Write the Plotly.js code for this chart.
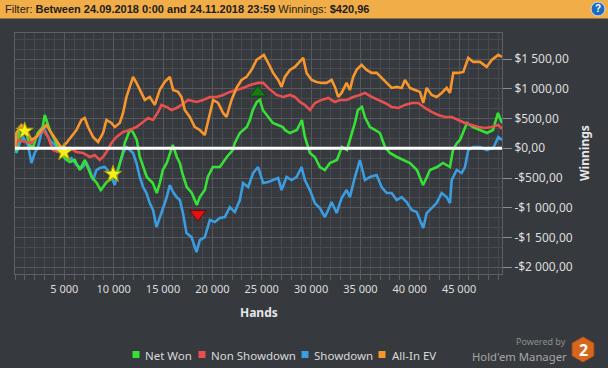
<!DOCTYPE html>
<html><head><meta charset="utf-8">
<script src="https://cdn.plot.ly/plotly-3.0.1.min.js"></script>
<style>html,body{margin:0;padding:0;background:#36393d;}#chart{width:608px;height:368px;}</style>
</head><body><div id="chart"></div>
<script>
// ---- data (hands, $) ----
const netHands = [0,172,477,984,1491,1795,2302,2809,3012,3519,4026,4533,5040,5547,6054,6561,7068,7575,7777,8284,8690,9298,9907,10414,10921,11123,11630,11934,12340,12644,13151,13354,13962,14368,14672,14976,15382,15686,15990,16396,16700,17005,17410,17917,18424,18728,19235,19539,20046,20756,21466,22074,22277,22784,23494,23798,24102,24508,24812,25116,25623,26130,26637,27144,27347,27854,28564,29071,29375,29882,30389,30896,31403,31910,32620,33127,33634,33938,34445,34749,35155,35459,35966,36473,36980,37487,37994,38704,39312,40022,40732,41340,41746,42050,42760,43368,44078,44382,44788,45093,45802,46411,47120,47830,48439,48946,49351];
const netWon = [0,-45,358,342,56,5,257,358,560,308,140,-62,-163,-230,-197,-365,-197,-416,-483,-584,-702,-567,-500,-365,-79,89,308,274,140,-146,-365,-483,-584,-752,-584,-365,-247,-79,56,-146,-247,-449,-651,-752,-954,-820,-702,-483,-315,-315,-146,-29,89,257,358,476,644,779,813,644,526,426,392,358,308,257,308,476,190,-79,-146,-315,-365,-247,-197,22,-29,140,426,644,695,526,358,308,257,22,-79,-146,-197,-247,-365,-618,-483,-365,-315,-247,-315,-29,89,140,426,358,308,257,308,594,420.96];

const nsHands = [0,304,811,1663,2170,2839,3346,3853,4360,4867,5547,6226,6895,7575,8082,8589,8923,9268,9775,10282,10951,11631,12310,12979,13486,13993,14500,14845,15352,15859,16366,16873,17542,18394,19063,19743,20422,21091,21771,22450,23119,23799,24640,25147,25654,26506,27175,27855,28362,28869,29376,29883,30390,31069,31738,32418,32925,33604,34273,34953,35460,36139,36808,37488,38167,38836,39516,40195,40864,41544,42223,42892,43572,44251,44920,45600,46279,46948,47628,48307,48976,49351];
const nonShowdown = [0,140,120,89,190,308,190,-29,-62,-29,5,-62,-79,-146,-113,-197,-146,-62,89,190,274,308,358,443,510,476,611,729,695,644,678,729,813,779,813,863,863,897,948,981,1015,1065,1099,1099,1015,897,863,897,863,779,729,644,762,813,846,779,813,813,863,897,931,863,813,762,695,678,729,762,762,678,611,560,526,526,476,426,392,358,342,358,392,325];

const sdHands = [0,142,477,811,1318,1663,1998,2332,2677,3012,3519,4026,4533,5212,5719,6226,6733,7240,7575,7909,8254,8589,9096,9603,10110,10444,10951,11296,11965,12310,12645,12979,13324,13658,13993,14338,14672,15007,15352,15686,16021,16366,16700,17035,17380,17887,18394,18728,19235,19743,20250,20757,21264,21771,22278,22785,23119,23626,24133,24640,25147,25654,26161,26668,27013,27520,28027,28534,29041,29376,29883,30390,30896,31403,31738,32083,32590,33097,33604,33938,34445,34953,35460,35966,36646,37153,37660,38167,38674,39181,39688,40195,40702,41036,41371,41716,42223,42730,43237,43744,44078,44251,44758,45265,45600,45934,46441,47120,47800,48469,48976,49351];
const showdown = [0,-79,89,190,56,-247,-79,22,257,308,140,56,-29,-197,-163,-281,-332,-247,-365,-534,-365,-332,-315,-416,-618,-365,-79,22,-79,-247,-483,-651,-752,-921,-1038,-1325,-1156,-1005,-836,-618,-736,-820,-870,-1099,-1426,-1493,-1745,-1543,-1493,-1207,-1240,-1173,-1156,-988,-1072,-870,-584,-651,-416,-315,-584,-567,-534,-500,-702,-483,-534,-483,-315,-534,-702,-921,-1005,-1156,-1038,-904,-1089,-836,-702,-820,-483,-197,-534,-483,-449,-651,-752,-752,-870,-820,-904,-1038,-1072,-1207,-1341,-1089,-1005,-921,-752,-820,-921,-534,-365,-416,-315,-29,22,22,-29,5,190,140];

const evHands = [0,142,649,1156,1663,2170,2677,3184,3691,4198,4705,5212,5719,6226,6733,7068,7402,7909,8416,8923,9268,9775,10110,10617,10951,11296,11631,11965,12310,12645,13152,13658,14165,14672,15179,15686,16021,16528,16873,17207,17714,18221,18728,19235,19570,20077,20584,21091,21436,21943,22450,22957,23464,23971,24478,24812,25218,25654,26161,26668,27013,27347,27855,28362,28869,29204,29548,30055,30562,31069,31576,32083,32418,32752,33097,33604,33938,34273,34618,35125,35632,36139,36646,37153,37660,38167,38674,39181,39516,40022,40529,41036,41371,41716,42223,42730,43237,43744,44078,44413,44920,45427,45934,46441,47120,47800,48307,48976,49351];
const allInEV = [0,257,392,308,140,190,308,392,257,140,5,89,190,308,476,510,358,190,106,257,476,426,358,426,594,863,1032,1200,1099,981,813,863,729,981,1116,1200,981,948,863,645,526,358,308,224,476,813,762,594,526,813,1015,1149,1200,1318,1486,1520,1570,1436,1267,1149,1032,1200,1318,1368,1452,1520,1267,1149,1116,1099,1099,1149,1032,863,931,1099,981,1200,1318,1402,1318,1267,1267,1183,1099,1015,1032,1015,1149,1015,981,948,762,1015,897,863,931,1015,931,1267,1267,1284,1520,1452,1452,1368,1486,1570,1537];

const starHands = [984, 4969, 9937];
const starValues = [291, -67, -434];
const maxHands = [24610];
const maxValues = [936];
const minHands = [18526];
const minValues = [-1106];

const seriesNames = ['Net Won', 'Non Showdown', 'Showdown', 'All-In EV'];
const seriesColors = ['#36e036', '#e84f4f', '#3b9ce0', '#f7962d'];

const xTickVals = [5000, 10000, 15000, 20000, 25000, 30000, 35000, 40000, 45000];
const xTickText = ['5 000', '10 000', '15 000', '20 000', '25 000', '30 000', '35 000', '40 000', '45 000'];
const yTickVals = [-2000, -1500, -1000, -500, 0, 500, 1000, 1500];
const yTickText = ['-$2 000,00', '-$1 500,00', '-$1 000,00', '-$500,00', '$0,00', '$500,00', '$1 000,00', '$1 500,00'];

const filterText = 'Filter: <b>Between 24.09.2018 0:00 and 24.11.2018 23:59</b> Winnings: <b>$420,96</b>';

// ---- layout helpers (pixel -> paper) ----
const W = 608, H = 368, ML = 15, MR = 106, MT = 33, MB = 94;
const PW = W - ML - MR, PH = H - MT - MB;
const px = X => (X - ML) / PW;
const py = Y => (H - MB - Y) / PH;

const seriesX = [netHands, nsHands, sdHands, evHands];
const seriesY = [netWon, nonShowdown, showdown, allInEV];
const drawOrder = [2, 0, 1, 3];

const traces = drawOrder.map(i => ({
  type: 'scatter', mode: 'lines', name: seriesNames[i],
  x: seriesX[i], y: seriesY[i],
  line: {color: seriesColors[i], width: 2.6},
  showlegend: false, hoverinfo: 'skip'
}));
traces.push({type:'scatter', mode:'markers', x: starHands, y: starValues, showlegend:false,
  marker:{symbol:'star', size:13, color:'#f7ef1a', line:{color:'#a89a00', width:1}}});
traces.push({type:'scatter', mode:'markers', x: maxHands, y: maxValues, showlegend:false,
  marker:{symbol:'triangle-up', size:14, color:'#177a17', line:{color:'#0b4a0b', width:1}}});
traces.push({type:'scatter', mode:'markers', x: minHands, y: minValues, showlegend:false,
  marker:{symbol:'triangle-down', size:14, color:'#e01414', line:{color:'#7a0000', width:1}}});

const shapes = [
  {type:'rect', xref:'paper', yref:'paper', x0:px(-2), x1:px(W+2), y0:py(18.5), y1:py(-2),
   fillcolor:'#f1ad48', line:{width:0}, layer:'below'},
  {type:'circle', xref:'paper', yref:'paper', x0:px(591), x1:px(605), y0:py(16), y1:py(2),
   fillcolor:'#1d6bbf', line:{color:'#cfe0f4', width:1}},
  {type:'line', xref:'paper', yref:'y', x0:0, x1:1, y0:0, y1:0, line:{color:'#ffffff', width:3}, layer:'above'},
  {type:'path', xref:'paper', yref:'paper', xsizemode:'pixel', ysizemode:'pixel',
   xanchor:px(583), yanchor:py(349.5),
   path:'M0,12.5 L10.8,6.25 L10.8,-6.25 L0,-12.5 L-10.8,-6.25 L-10.8,6.25 Z',
   fillcolor:'#d8671e', line:{color:'#b5541a', width:1}}
];

const legendSquareX = [136, 202, 305, 382];
const legendTextX = [143, 209, 312, 390];
seriesNames.forEach((n, i) => {
  shapes.push({type:'rect', xref:'paper', yref:'paper',
    x0:px(legendSquareX[i]-3.5), x1:px(legendSquareX[i]+3.5), y0:py(358), y1:py(351),
    fillcolor:seriesColors[i], line:{width:0}});
});

const annotations = [
  {text: filterText, xref:'paper', yref:'paper', x:px(3), y:py(9.5), xanchor:'left', yanchor:'middle',
   showarrow:false, font:{family:'Liberation Sans Narrow, Liberation Sans, Arial', size:11, color:'#1c1c1c'}},
  {text:'<b>?</b>', xref:'paper', yref:'paper', x:px(598), y:py(9), xanchor:'center', yanchor:'middle',
   showarrow:false, font:{family:'Liberation Sans', size:10, color:'#ffffff'}},
  {text:'<b>Hands</b>', xref:'paper', yref:'paper', x:px(259), y:py(312), xanchor:'center', yanchor:'middle',
   showarrow:false, font:{family:'Noto Sans', size:12, color:'#e6e6e6'}},
  {text:'<b>Winnings</b>', xref:'paper', yref:'paper', x:px(584), y:py(153), xanchor:'center', yanchor:'middle',
   textangle:-90, showarrow:false, font:{family:'Noto Sans', size:12, color:'#e6e6e6'}},
  {text:'Powered by', xref:'paper', yref:'paper', x:px(568), y:py(341.5), xanchor:'right', yanchor:'middle',
   showarrow:false, font:{family:'Noto Sans', size:9, color:'#8e8e8e'}},
  {text:"Hold'em Manager", xref:'paper', yref:'paper', x:px(569), y:py(356), xanchor:'right', yanchor:'middle',
   showarrow:false, font:{family:'Noto Sans', size:11.3, color:'#a6a6a6'}},
  {text:'<b>2</b>', xref:'paper', yref:'paper', x:px(583), y:py(349.5), xanchor:'center', yanchor:'middle',
   showarrow:false, font:{family:'Noto Sans', size:16, color:'#ffffff'}}
];
seriesNames.forEach((n, i) => {
  annotations.push({text:n, xref:'paper', yref:'paper', x:px(legendTextX[i]), y:py(355), xanchor:'left', yanchor:'middle',
    showarrow:false, font:{family:'Noto Sans', size:11.5, color:'#d9d9d9'}});
});

const gridMajor = '#55585c', gridMinor = '#46494d';

const layout = {
  width: W, height: H,
  margin: {l: ML, r: MR, t: MT, b: MB, pad: 0},
  paper_bgcolor: '#36393d', plot_bgcolor: '#36393d',
  font: {family: 'Noto Sans', color: '#dedede'},
  showlegend: false,
  hovermode: false,
  xaxis: {
    range: [0, 49351], tickmode: 'array', tickvals: xTickVals, ticktext: xTickText,
    showgrid: true, gridcolor: gridMajor, gridwidth: 1, zeroline: false,
    showline: true, mirror: true, linecolor: '#5d6064', linewidth: 1,
    ticks: 'outside', ticklen: 5, tickcolor: '#5d6064',
    tickfont: {size: 11, color: '#dedede'},
    minor: {tickmode: 'linear', tick0: 0, dtick: 1000, showgrid: true, gridcolor: gridMinor, gridwidth: 1,
            ticks: 'outside', ticklen: 5, tickcolor: '#5d6064'}
  },
  yaxis: {
    side: 'right', range: [-2113, 1938], tickmode: 'array', tickvals: yTickVals, ticktext: yTickText,
    showgrid: true, gridcolor: gridMajor, gridwidth: 1, zeroline: false,
    showline: true, mirror: true, linecolor: '#5d6064', linewidth: 1,
    ticks: 'outside', ticklen: 9, tickcolor: '#8a8d91',
    tickfont: {size: 12, color: '#dedede'},
    minor: {tickmode: 'linear', tick0: 0, dtick: 500/3, showgrid: true, gridcolor: gridMinor, gridwidth: 1}
  },
  shapes: shapes,
  annotations: annotations
};

Plotly.newPlot('chart', traces, layout, {staticPlot: true, displayModeBar: false});
</script>
</body></html>
